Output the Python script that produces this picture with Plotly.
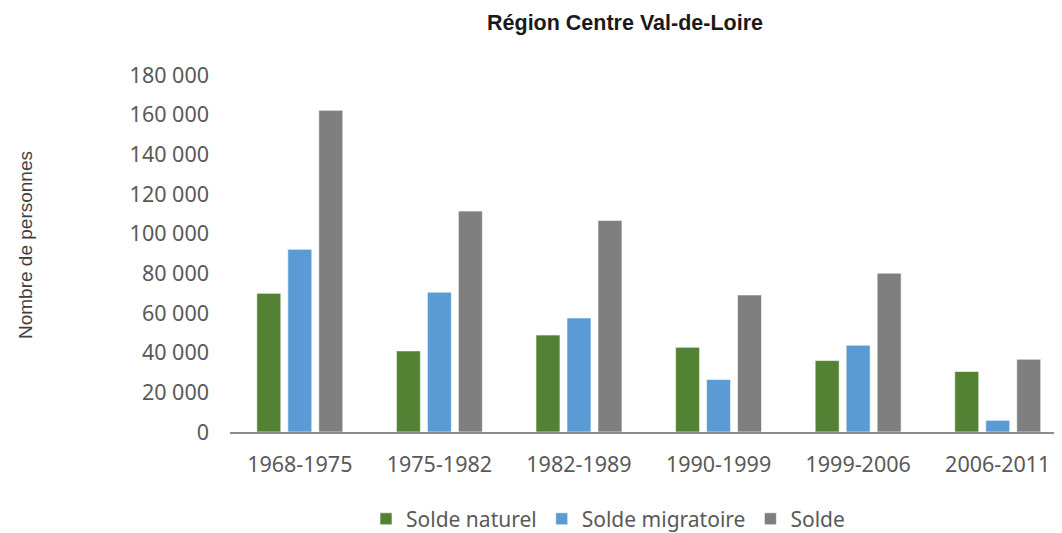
import plotly.graph_objects as go

periods = ["1968-1975", "1975-1982", "1982-1989", "1990-1999", "1999-2006", "2006-2011"]
solde_naturel = [69900, 40900, 48900, 42700, 36000, 30500]
solde_migratoire = [92100, 70500, 57500, 26500, 43800, 5900]
solde = [162200, 111400, 106700, 69100, 80100, 36700]
y_ticks = [0, 20000, 40000, 60000, 80000, 100000, 120000, 140000, 160000, 180000]
y_tick_text = ["0", "20 000", "40 000", "60 000", "80 000", "100 000", "120 000", "140 000", "160 000", "180 000"]

colors = ["#548235", "#5B9BD5", "#7F7F7F"]
names = ["Solde naturel", "Solde migratoire", "Solde"]
series = [solde_naturel, solde_migratoire, solde]

# page body adds an 8px margin; figure is sized to fit the 1062x533 window
W, H = 1054, 525
OFF = 8

fig = go.Figure()
for nm, vals, c in zip(names, series, colors):
    fig.add_trace(go.Bar(x=periods, y=vals, name=nm,
                         marker=dict(color=c, line=dict(color="rgba(255,255,255,0.6)", width=1))))

fig.update_layout(
    width=W, height=H,
    margin=dict(l=230 - OFF, r=2, t=75 - OFF, b=101, autoexpand=False),
    paper_bgcolor="white", plot_bgcolor="white",
    barmode="group", bargap=0.334, bargroupgap=0.226,
    title=dict(text="<b>Région Centre Val-de-Loire</b>", x=(625 - OFF) / W, xref="container", xanchor="center",
               y=1 - (22 - OFF) / H, yref="container", yanchor="middle",
               font=dict(family="Liberation Sans", size=21.5, color="#1a1a1a")),
    font=dict(family="Noto Sans", color="#595959"),
    showlegend=True,
    legend=dict(orientation="h", x=(608-230)/830, xanchor="center", y=-0.244, yanchor="middle",
                font=dict(family="Noto Sans", size=21, color="#595959"),
                traceorder="normal"),
    xaxis=dict(range=[-0.5, 5.446], showline=True, linecolor="#8c8c8c", linewidth=2, showgrid=False, ticks="",
               automargin=False,
               tickfont=dict(family="Noto Sans", size=21.5, color="#595959"), ticklabelstandoff=12),
    yaxis=dict(range=[0, 180000], tickvals=y_ticks, ticktext=y_tick_text, showgrid=False,
               showline=False, zeroline=False, ticks="", automargin=False,
               tickfont=dict(family="Noto Sans", size=21.5, color="#595959"), ticklabelstandoff=20),
    annotations=[dict(text="Nombre de personnes", textangle=-90, xref="paper", yref="paper",
                      x=(25-230)/830, y=(432-245)/357, showarrow=False, xanchor="center", yanchor="middle",
                      font=dict(family="Liberation Sans", size=19, color="#404040"))],
)

fig.write_html("out.html")
